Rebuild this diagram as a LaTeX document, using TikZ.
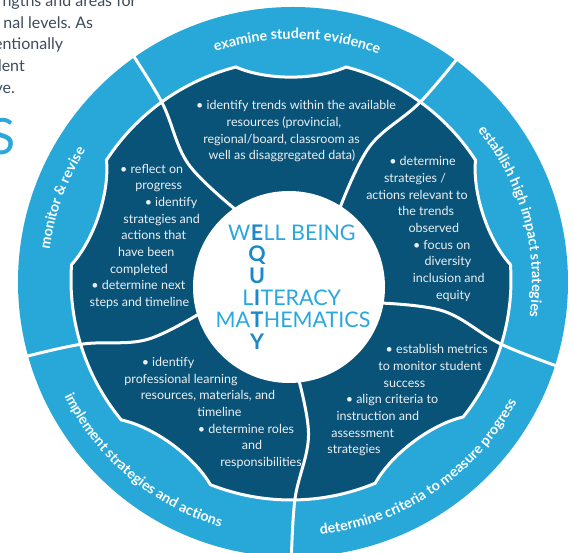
\documentclass[tikz,border=0pt]{standalone}
\usepackage{fontspec}
\setmainfont{Lato}
\usetikzlibrary{decorations.text}
\definecolor{ringblue}{HTML}{27A8D8}
\definecolor{darkblue}{HTML}{0A5378}
\definecolor{eqlight}{HTML}{2AA7DF}
\definecolor{eqbold}{HTML}{1B88C8}
\definecolor{pagetext}{HTML}{3E4B5B}
\definecolor{ptextc}{HTML}{EAF0F4}
\newcommand\ringfont{\fontsize{14.3}{14.3}\selectfont\bfseries}
\newcommand\pl[4]{\node[ptext] (#1) at (#2,{#3+3.3}) {#4};}
\frenchspacing
\begin{document}
\begin{tikzpicture}[x=1pt,y=1pt,
  ptext/.style={font=\fontsize{12.5}{15}\selectfont, text=ptextc, inner sep=0pt, anchor=base},
  eql/.style={font=\fontsize{21.5}{21.5}\selectfont, text=eqlight, inner sep=0pt},
  eqb/.style={font=\fontsize{21.5}{21.5}\selectfont\bfseries, text=eqbold, inner sep=0pt, anchor=base},
  pagetxt/.style={font=\fontsize{16}{16}\selectfont, text=pagetext, inner sep=0pt, anchor=base east},
  gap/.style={white, line width=3pt},
  ringlabel/.style={decorate, decoration={text along path, text align=center, text color=white, text={#1}}}
]
\useasboundingbox (-291,-270) rectangle (282,283);
% outer ring
\fill[ringblue] (2,1) circle[radius=275];
% dark scalloped region and dividers
\begin{scope}[shift={(0,3)}]
\path[fill=darkblue, draw=white, line width=3pt]
  (104.5:220) .. controls (97:201) and (83:201) .. (75.5:220)
  arc[start angle=75.5, end angle=33, radius=220]
  .. controls (25.5:201) and (11.5:201) .. (4:220)
  arc[start angle=4, end angle=-38.5, radius=220]
  .. controls (-46:201) and (-60:201) .. (-67.5:220)
  arc[start angle=-67.5, end angle=-111.5, radius=220]
  .. controls (-119:201) and (-133:201) .. (-140.5:220)
  arc[start angle=-140.5, end angle=-184, radius=220]
  .. controls (-191.5:201) and (-205.5:201) .. (-213:220)
  arc[start angle=-213, end angle=-255.5, radius=220] -- cycle;
\foreach \d in {126,54,-17,-89,197}
  \draw[gap] plot[smooth, tension=0.6] coordinates {({\d+1.5}:85) ({\d+5.5}:155) (\d:220) ({\d-1}:292)};
\end{scope}
% central circle
\fill[white] (-2,-4) circle[radius=96];
% ring labels
\begin{scope}[shift={(2,1)}]
\path[ringlabel={|\ringfont|examine student evidence}] (140:243) arc[start angle=140, end angle=38, radius=243];
\path[ringlabel={|\ringfont|establish high impact strategies}] (62:239) arc[start angle=62, end angle=-31, radius=239];
\path[ringlabel={|\ringfont|determine criteria to measure progress}] (-104:254) arc[start angle=-104, end angle=-8, radius=254];
\path[ringlabel={|\ringfont|implement strategies and actions}] (185:255.5) arc[start angle=185, end angle=275, radius=255.5];
\path[ringlabel={|\ringfont|monitor {\&} revise}] (200:245.5) arc[start angle=200, end angle=120, radius=245.5];
\end{scope}
% texts in pixel frame
\begin{scope}[shift={(-291pt,283pt)}, y=-1pt]
\node[pagetxt] (pg1) at (136.7,6.6) {ngths and areas for};
\node[pagetxt] (pg2) at (93.3,28.3) {nal levels. As};
\node[pagetxt] (pg3) at (63.3,50) {entionally};
\node[pagetxt] (pg4) at (25,71.7) {dent};
\node[pagetxt] (pg5) at (15,93.3) {ve.};
\node[font=\fontsize{50}{50}\selectfont, text=eqlight, inner sep=0pt, anchor=base east] (pgS) at (15.5,155) {S};
% centre
\node[eqb] (q1) at (257,240.2) {E};
\node[eql, anchor=base east] (q1l) at (q1.base west) {W};
\node[eql, anchor=base west] (q1r) at (q1.base east) {LL BEING};
\node[eqb] (q2) at (257,262) {Q};
\node[eqb] (q3) at (257,283.8) {U};
\node[eqb] (q4) at (257,305.6) {I};
\node[eql, anchor=base east] (q4l) at (q4.base west) {L};
\node[eql, anchor=base west] (q4r) at (q4.base east) {TERACY};
\node[eqb] (q5) at (257,327.4) {T};
\node[eql, anchor=base east] (q5l) at (q5.base west) {MA};
\node[eql, anchor=base west] (q5r) at (q5.base east) {HEMATICS};
\node[eqb] (q6) at (257,349.2) {Y};
% top piece
\pl{a1}{296}{106.6}{• identify trends within the available}
\pl{a2}{284}{123.3}{resources (provincial,}
\pl{a3}{281.5}{140}{regional/board, classroom as}
\pl{a4}{282}{156.7}{well as disaggregated data)}
% left piece
\pl{b1}{151.7}{170}{• reflect on}
\pl{b2}{158.7}{186.7}{progress}
\pl{b3}{171}{203.3}{• identify}
\pl{b4}{161.7}{220}{strategies and}
\pl{b5}{153.7}{236.7}{actions that}
\pl{b6}{146.3}{253.3}{have been}
\pl{b7}{139}{270}{completed}
\pl{b8}{138.3}{286.7}{• determine next}
\pl{b9}{139.5}{303.3}{steps and timeline}
% right piece
\pl{c1}{422.5}{162.7}{• determine}
\pl{c2}{415}{179.3}{strategies /}
\pl{c3}{417}{196}{actions relevant to}
\pl{c4}{426}{212.7}{the trends}
\pl{c5}{433.8}{229.3}{observed}
\pl{c6}{441.7}{246}{• focus on}
\pl{c7}{448}{262.7}{diversity}
\pl{c8}{448.8}{279.3}{inclusion and}
\pl{c9}{453.3}{296}{equity}
% bottom-right piece
\pl{d1}{436.7}{350.7}{• establish metrics}
\pl{d2}{430}{367.3}{to monitor student}
\pl{d3}{404.5}{384}{success}
\pl{d4}{392}{400.7}{• align criteria to}
\pl{d5}{377.8}{417.3}{instruction and}
\pl{d6}{362.7}{434}{assessment}
\pl{d7}{354}{450.7}{strategies}
% bottom-left piece
\pl{e1}{168}{363.3}{• identify}
\pl{e2}{181}{380}{professional learning}
\pl{e3}{208}{396.7}{resources, materials, and}
\pl{e4}{219.5}{413.3}{timeline}
\pl{e5}{246}{430}{• determine roles}
\pl{e6}{252}{446.7}{and}
\pl{e7}{261}{463.3}{responsibilities}
\end{scope}
\end{tikzpicture}
\end{document}
